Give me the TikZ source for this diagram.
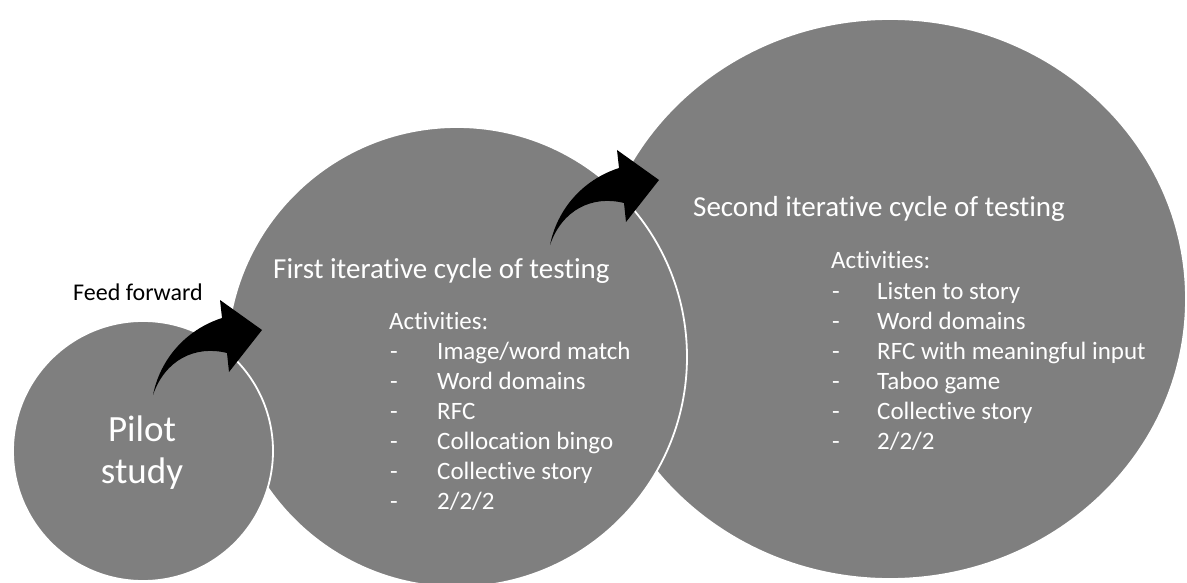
\documentclass[tikz,border=0pt]{standalone}
\usepackage{fontspec}
\setmainfont[Ligatures={NoCommon}]{Carlito}
\usetikzlibrary{shapes.geometric}
\definecolor{discgray}{RGB}{127,127,127}
\tikzset{
  discshape/.style={fill=discgray, draw=white, line width=1.8pt, inner sep=0pt},
  titletext/.style={text=white, anchor=base west, inner sep=0pt, font=\fontsize{29}{35}\selectfont},
  itemtext/.style={text=white, anchor=base west, inner sep=0pt, font=\fontsize{25}{30}\selectfont},
  pilottext/.style={text=white, anchor=base, inner sep=0pt, font=\fontsize{37}{44}\selectfont},
  labeltext/.style={text=black, anchor=base west, inner sep=0pt, font=\fontsize{24}{28}\selectfont},
  bentarrow/.pic={
    \fill[black] (0,0) .. controls (7,-35) and (32,-65) .. (69,-77)
      -- (67,-95) -- (109,-65) -- (76,-23) -- (74,-42)
      .. controls (42,-50) and (12,-35) .. cycle;
  }
}
\begin{document}
\begin{tikzpicture}[x=1pt, y=-1pt]
  \useasboundingbox (0,0) rectangle (1187,583);
  \fill[white] (0,0) rectangle (1187,583);
  \clip (0,0) rectangle (1187,583);

  % the three stages, back to front
  \node[discshape, ellipse, minimum width=592pt, minimum height=560pt] (second) at (890,299) {};
  \node[discshape, circle, minimum size=460pt] (first) at (457,357) {};
  \node[discshape, circle, minimum size=260pt] (pilot) at (143,451) {};

  % pilot stage
  \node[pilottext] (pilotA) at (142,441) {Pilot};
  \node[pilottext] (pilotB) at (142,483) {study};
  \node[labeltext] (feed) at (73,300) {Feed forward};

  % first cycle
  \node[titletext] (firsttitle) at (273,278) {First iterative cycle of testing};
  \node[itemtext] (firstact) at (389,329) {Activities:};
  \foreach \t [count=\i] in {{Image/word match},{Word domains},{RFC},{Collocation bingo},{Collective story},{2/2/2}} {
    \node[itemtext] (fd\i) at (390,329+30*\i) {-};
    \node[itemtext] (fi\i) at (437,329+30*\i) {\t};
  }

  % second cycle
  \node[titletext] (secondtitle) at (693,217) {Second iterative cycle of testing};
  \node[itemtext] (secondact) at (831,269) {Activities:};
  \foreach \t [count=\i] in {{Listen to story},{Word domains},{RFC with meaningful input},{Taboo game},{Collective story},{2/2/2}} {
    \node[itemtext] (sd\i) at (832,269+30*\i) {-};
    \node[itemtext] (si\i) at (877,269+30*\i) {\t};
  }

  % feed-forward arrows
  \pic (arrowA) at (153,395) {bentarrow};
  \pic (arrowB) at (550,245) {bentarrow};
\end{tikzpicture}
\end{document}
